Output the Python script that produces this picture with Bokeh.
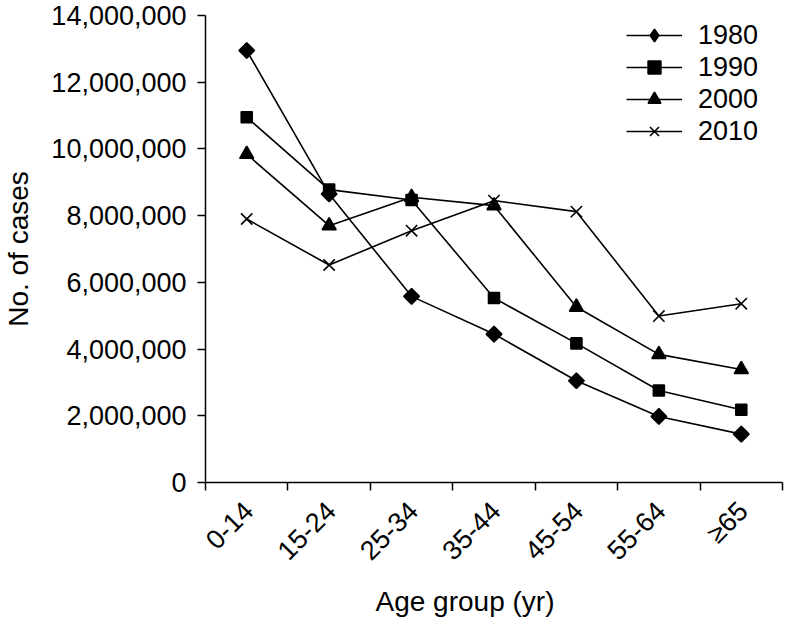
import math
from bokeh.plotting import figure
from bokeh.models import (Range1d, FixedTicker, CustomJSTickFormatter,
                          NumeralTickFormatter, Legend, LegendItem, Title)
from bokeh.embed import file_html
from bokeh.resources import INLINE

age_groups = ["0-14", "15-24", "25-34", "35-44", "45-54", "55-64", "≥65"]
years = ["1980", "1990", "2000", "2010"]
cases_1980 = [12950000, 8650000, 5580000, 4450000, 3050000, 1980000, 1450000]
cases_1990 = [10950000, 8780000, 8470000, 5530000, 4170000, 2760000, 2180000]
cases_2000 = [9840000, 7700000, 8550000, 8300000, 5260000, 3840000, 3390000]
cases_2010 = [7900000, 6520000, 7550000, 8450000, 8120000, 4990000, 5360000]
y_ticks = [0, 2000000, 4000000, 6000000, 8000000, 10000000, 12000000, 14000000]

series = [cases_1980, cases_1990, cases_2000, cases_2010]
markers = ["square", "square", "triangle", "x"]
legend_markers = ["diamond", "square", "triangle", "x"]
angles = [math.pi / 4, 0, 0, 0]
sizes = [11, 11, 14, 16]
legend_sizes = [17, 11, 14, 16]

FONT = "Liberation Sans"
FS = "27px"
FS_TITLE = "28px"

x_pos = [i + 0.5 for i in range(len(age_groups))]
bounds = list(range(len(age_groups) + 1))

p = figure(width=786, height=621, output_backend="svg", toolbar_location=None,
           x_range=Range1d(0, len(age_groups)), y_range=Range1d(0, 14000000),
           min_border_left=205, min_border_right=4, min_border_top=15,
           min_border_bottom=138)
p.outline_line_color = None
p.xgrid.visible = False
p.ygrid.visible = False
p.background_fill_color = "white"
p.border_fill_color = "white"

items = []
for yr, vals, mk, lmk, ang, sz, lsz in zip(years, series, markers, legend_markers,
                                           angles, sizes, legend_sizes):
    r1 = p.line(x_pos, vals, line_color="black", line_width=1.6)
    r2 = p.scatter(x_pos, vals, marker=mk, angle=ang, size=sz,
                   fill_color="black", line_color="black", line_width=1.6)
    rends = [r1, r2]
    if lmk != mk:
        r3 = p.scatter(x_pos, vals, marker=lmk, size=lsz, fill_color="black",
                       line_color="black", line_width=1.6, visible=False)
        rends = [r1, r3]
    items.append(LegendItem(label=yr, renderers=rends))

legend = Legend(items=items, location=(421, 335), orientation="vertical",
                border_line_color=None, background_fill_alpha=0,
                padding=0, margin=0, spacing=0, click_policy="none",
                glyph_width=56, glyph_height=32, label_height=32,
                label_standoff=16, label_text_font=FONT,
                label_text_font_size=FS, label_text_color="black")
p.add_layout(legend)

# y axis
ya = p.yaxis[0]
ya.ticker = FixedTicker(ticks=y_ticks)
ya.formatter = NumeralTickFormatter(format="0,0")
ya.axis_label = "No. of cases"
ya.axis_label_text_font = FONT
ya.axis_label_text_font_size = FS_TITLE
ya.axis_label_text_font_style = "normal"
ya.axis_label_text_color = "black"
ya.axis_label_standoff = 14
ya.major_label_text_font = FONT
ya.major_label_text_font_size = FS
ya.major_label_text_color = "black"
ya.major_label_standoff = 11
ya.axis_line_color = "black"
ya.axis_line_width = 1.5
ya.major_tick_line_color = "black"
ya.major_tick_line_width = 1.5
ya.major_tick_out = 8
ya.major_tick_in = 0
ya.minor_tick_line_color = None

# x axis (labels centred in each category, ticks on category boundaries)
label_shift = 0.025
xa = p.xaxis[0]
xa.ticker = FixedTicker(ticks=[x + label_shift for x in x_pos], minor_ticks=bounds)
xa.formatter = CustomJSTickFormatter(args=dict(labels=age_groups),
                                     code="return labels[Math.floor(tick)];")
xa.major_label_orientation = math.pi / 4
xa.major_label_text_font = FONT
xa.major_label_text_font_size = FS
xa.major_label_text_color = "black"
xa.major_label_standoff = 16
xa.axis_line_color = "black"
xa.axis_line_width = 1.5
xa.major_tick_line_color = None
xa.major_tick_out = 0
xa.major_tick_in = 0
xa.minor_tick_line_color = "black"
xa.minor_tick_line_width = 1.5
xa.minor_tick_out = 8
xa.minor_tick_in = 0

xt = Title(text="Age group (yr)", align="left", offset=170, standoff=9,
           text_font=FONT, text_font_size=FS_TITLE, text_font_style="normal",
           text_color="black")
p.add_layout(xt, "below")

open("out.html", "w").write(file_html(p, INLINE))
